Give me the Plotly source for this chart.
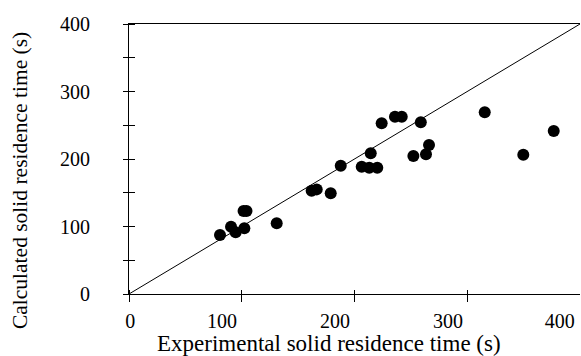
import plotly.graph_objects as go

# Data
exp_time = [80.7, 90.5, 94.6, 102.3, 101.6, 104.2, 131, 162, 166.5, 178.9, 187.8,
            206.4, 213.1, 220.2, 214.4, 224.1, 235.9, 241.9, 258.8, 252.2, 263.4,
            266.1, 315.5, 349.7, 376.7]
calc_time = [87.4, 99.7, 91.4, 97.3, 123, 123, 104.7, 153, 155, 149.2, 190,
             188.6, 187.1, 187.1, 208.4, 252.9, 262.7, 262.7, 254.4, 204.4, 207,
             220.7, 269.2, 206.4, 241.5]
parity_x = [0, 400]
parity_y = [0, 400]

x_tick_vals = [0, 100, 200, 300]
x_label_pos = [1, 82.5, 182.7, 283, 382]
x_label_text = ["0", "100", "200", "300", "400"]
y_tick_vals = [0, 50, 100, 150, 200, 250, 300, 350, 400]
y_label_vals = [0, 100, 200, 300, 400]
y_label_text = ["0", "100", "200", "300", "400"]

FONT = "Liberation Serif"

fig = go.Figure()
fig.add_trace(go.Scatter(x=parity_x, y=parity_y, mode="lines",
                         line=dict(color="black", width=1), showlegend=False,
                         hoverinfo="skip"))
fig.add_trace(go.Scatter(x=exp_time, y=calc_time, mode="markers",
                         marker=dict(color="black", size=12, line=dict(width=0)),
                         showlegend=False))

common = dict(showgrid=False, zeroline=False)

fig.update_layout(
    template="none",
    width=581, height=356,
    margin=dict(l=129, r=1, t=24, b=62),
    plot_bgcolor="white", paper_bgcolor="white",
    font=dict(family=FONT, size=20, color="black"),
    xaxis=dict(range=[0, 400], tickvals=x_tick_vals, showticklabels=False,
               ticks="", showline=True, linecolor="black", linewidth=1,
               mirror=True, **common),
    xaxis2=dict(overlaying="x", matches="x", anchor="y", side="bottom",
                tickvals=x_label_pos, ticktext=x_label_text, ticks="",
                showline=False, ticklabelstandoff=13,
                tickfont=dict(family=FONT, size=20), **common),
    xaxis3=dict(overlaying="x", matches="x", anchor="free", position=5 / 270,
                side="bottom", tickvals=x_tick_vals, showticklabels=False,
                ticks="outside", ticklen=12, tickwidth=1, tickcolor="black",
                showline=False, **common),
    yaxis=dict(range=[0, 400], tickvals=y_label_vals, ticktext=y_label_text,
               ticks="", showline=True, linecolor="black", linewidth=1,
               mirror=False, ticklabelstandoff=34,
               tickfont=dict(family=FONT, size=20), **common),
    yaxis2=dict(overlaying="y", matches="y", anchor="free", position=6 / 451,
                side="left", tickvals=y_tick_vals, showticklabels=False,
                ticks="outside", ticklen=12, tickwidth=1, tickcolor="black",
                showline=False, **common),
    annotations=[
        dict(text="Experimental solid residence time (s)", xref="paper", yref="paper",
             x=0.4435, y=-0.185, xanchor="center", yanchor="middle", showarrow=False,
             font=dict(family=FONT, size=23)),
        dict(text="Calculated solid residence time (s)", xref="paper", yref="paper",
             x=-0.2417, y=0.422, xanchor="center", yanchor="middle", showarrow=False,
             textangle=-90, font=dict(family=FONT, size=21.5)),
    ],
)

# empty traces that switch on the overlay axes
fig.add_trace(go.Scatter(x=[None], y=[None], xaxis="x2", yaxis="y", showlegend=False))
fig.add_trace(go.Scatter(x=[None], y=[None], xaxis="x3", yaxis="y2", showlegend=False))

fig.write_html("out.html")
